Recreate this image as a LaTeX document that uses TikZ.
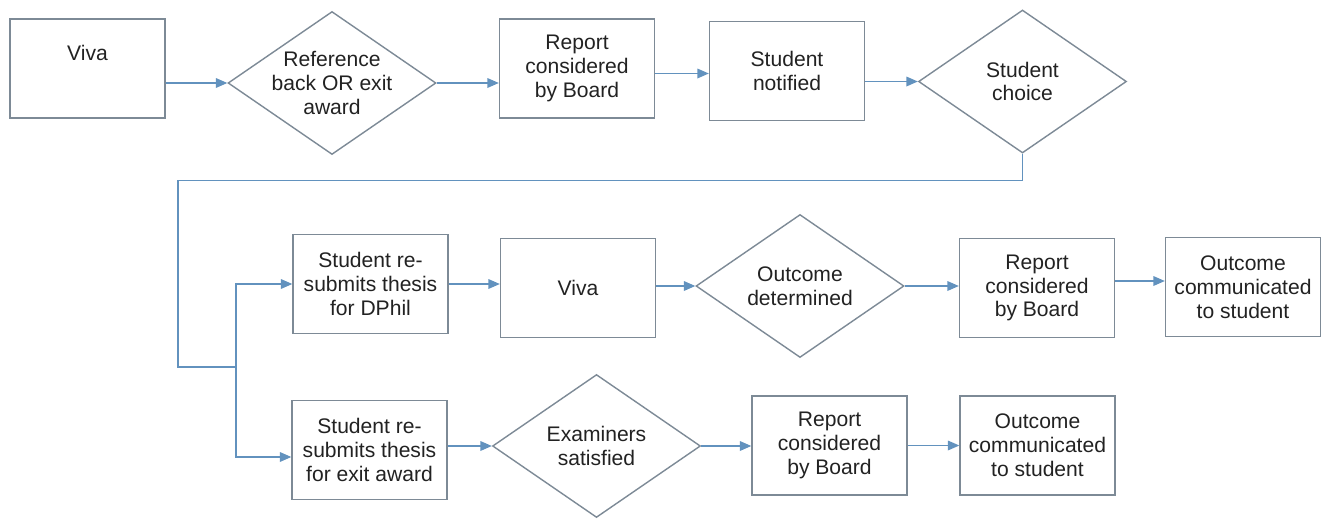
\documentclass[tikz,border=0pt]{standalone}
\usepackage{fontspec}
\setmainfont{Liberation Sans}
\usetikzlibrary{shapes.geometric,arrows.meta}
\definecolor{boxgray}{RGB}{125,138,150}
\definecolor{linkblue}{RGB}{98,146,190}
\definecolor{inkgray}{RGB}{34,34,34}
\tikzset{
  box/.style={draw=boxgray, line width=0.8pt, rectangle, minimum width=3.1cm, minimum height=1.98cm,
    inner sep=1pt, align=center, text=inkgray, font=\fontsize{12}{13.6}\selectfont},
  decision/.style={draw=boxgray, line width=0.8pt, diamond, shape aspect=1.455, minimum width=4.16cm,
    minimum height=2.86cm, inner sep=-5pt, align=center, text=inkgray, font=\fontsize{12}{13.6}\selectfont},
  link/.style={draw=linkblue, line width=0.7pt},
  arrow/.style={link, -{Triangle[length=6.5pt,width=5.5pt]}}
}
\begin{document}
\begin{tikzpicture}[x=0.02cm, y=-0.02cm]
      \useasboundingbox (0,0) rectangle (1326,521);
      \node[box] (viva) at (87.5,68.5) {Viva\\[4pt]\mbox{}};
      \node[decision] (ref) at (332,83) {Reference\\back OR exit\\award};
      \node[box] (rep) at (577,68.5) {Report\\considered\\by Board};
      \node[box] (note) at (787,71) {Student\\notified};
      \node[decision] (ch) at (1022.5,81.5) {Student\\choice};
      \node[box] (dphil) at (370.5,284) {Student re-\\submits thesis\\for DPhil};
      \node[box] (viva2) at (578,288) {Viva};
      \node[decision] (outd) at (800,286) {Outcome\\determined};
      \node[box] (rep2) at (1037,288) {Report\\considered\\by Board};
      \node[box] (com2) at (1243,287) {Outcome\\communicated\\to student};
      \node[box] (exit) at (369.5,450) {Student re-\\submits thesis\\for exit award};
      \node[decision] (exam) at (596.5,446) {Examiners\\satisfied};
      \node[box] (rep3) at (829.5,445.5) {Report\\considered\\by Board};
      \node[box] (com3) at (1037.5,445.5) {Outcome\\communicated\\to student};
      \coordinate (turn) at (178,367);
      \coordinate (fork) at (236,367);
      \draw[arrow] (viva.east |- ref.west) -- (ref.west);
      \draw[arrow] (ref.east) -- (ref.east -| rep.west);
      \draw[arrow] ([yshift=-0.1cm]rep.east) -- ([yshift=-0.1cm]rep.east -| note.west);
      \draw[arrow] (note.east |- ch.west) -- (ch.west);
      \draw[link] (ch.south) -- ++(0,27) -| (turn) -- (fork);
      \draw[arrow] (fork) |- (dphil.west);
      \draw[arrow] (fork) |- ([yshift=-0.14cm]exit.west);
      \draw[arrow] (dphil.east) -- (dphil.east -| viva2.west);
      \draw[arrow] (viva2.east |- outd.west) -- (outd.west);
      \draw[arrow] (outd.east) -- (outd.east -| rep2.west);
      \draw[arrow] ([yshift=0.14cm]rep2.east) -- ([yshift=0.14cm]rep2.east -| com2.west);
      \draw[arrow] (exit.east |- exam.west) -- (exam.west);
      \draw[arrow] (exam.east) -- (exam.east -| rep3.west);
      \draw[arrow] (rep3.east) -- (com3.west);
    \end{tikzpicture}
\end{document}
